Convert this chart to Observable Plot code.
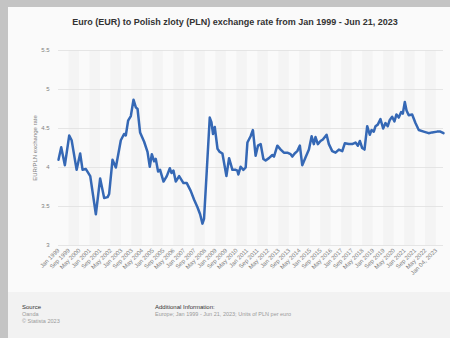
<!DOCTYPE html>
<html><head><meta charset="utf-8">
<script src="https://cdn.jsdelivr.net/npm/d3@7"></script>
<script src="https://cdn.jsdelivr.net/npm/@observablehq/plot@0.6"></script>
<style>
body{margin:0;width:450px;height:338px;background:#c4c4c4;font-family:"Liberation Sans",Arial,sans-serif;overflow:hidden;position:relative}
#card{position:absolute;left:8px;top:7px;width:442px;height:331px;background:#fafafa}
#title{position:absolute;left:12px;top:10px;width:430px;text-align:center;font-weight:bold;font-size:9px;line-height:11px;color:#333;white-space:nowrap}
#chart{position:absolute;left:0;top:23px}
#footer{position:absolute;left:0;top:285px;width:442px;height:46px;background:#f2f2f2;font-size:5.5px;line-height:7px;color:#9a9a9a}
#src{position:absolute;left:14px;top:12px}
#add{position:absolute;left:147px;top:12px}
.h{color:#333;font-size:6px}
</style></head>
<body>
<div id="card">
  <div id="title">Euro (EUR) to Polish zloty (PLN) exchange rate from Jan 1999 - Jun 21, 2023</div>
  <div id="chart"></div>
  <div id="footer">
    <div id="src"><div class="h">Source</div><div>Oanda</div><div>© Statista 2023</div></div>
    <div id="add"><div class="h">Additional Information:</div><div>Europe; Jan 1999 - Jun 21, 2023; Units of PLN per euro</div></div>
  </div>
</div>
<script>
const dates = ["1999-01-01","1999-03-05","1999-05-29","1999-09-07","1999-11-02","2000-02-26","2000-05-18","2000-07-13","2000-09-28","2001-01-07",
"2001-05-17","2001-08-25","2001-11-26","2002-02-14","2002-03-21","2002-06-08","2002-08-24","2002-12-18","2003-03-03","2003-04-12",
"2003-06-05","2003-08-07","2003-10-08","2003-12-01","2004-01-10","2004-03-09","2004-06-11","2004-08-28","2004-10-20","2004-12-06",
"2005-01-29","2005-03-08","2005-05-01","2005-06-16","2005-09-04","2005-11-19","2006-01-28","2006-03-07","2006-04-22","2006-06-15",
"2006-09-01","2006-12-11","2007-02-26","2007-05-28","2007-08-13","2007-11-01","2008-01-01","2008-02-25","2008-04-01","2008-06-03",
"2008-08-12","2008-09-20","2008-10-27","2008-12-06","2009-02-08","2009-04-01","2009-06-02","2009-09-03","2009-11-03","2010-01-20",
"2010-04-06","2010-05-15","2010-06-07","2010-07-30","2010-10-02","2010-11-24","2011-01-03","2011-03-18","2011-05-11","2011-07-13",
"2011-09-05","2011-11-07","2012-01-09","2012-03-01","2012-05-16","2012-08-04","2012-09-11","2012-11-28","2013-02-14","2013-04-29",
"2013-07-17","2013-10-02","2013-11-11","2014-01-04","2014-03-05","2014-05-05","2014-06-29","2014-09-15","2014-12-01","2015-02-02",
"2015-03-25","2015-05-03","2015-06-26","2015-08-28","2015-10-20","2016-01-15","2016-03-08","2016-05-25","2016-08-10","2016-10-26",
"2017-01-13","2017-03-13","2017-06-14","2017-09-02","2017-11-17","2018-01-10","2018-02-25","2018-04-20","2018-06-13","2018-08-15",
"2018-10-14","2018-11-23","2019-01-15","2019-02-24","2019-04-17","2019-06-19","2019-08-20","2019-10-13","2019-12-05","2020-01-21",
"2020-03-16","2020-05-08","2020-06-24","2020-08-17","2020-10-11","2020-11-18","2021-01-04","2021-02-13","2021-04-05","2021-06-23",
"2021-09-08","2021-11-24","2022-03-18","2022-07-12","2022-09-30","2023-01-24","2023-04-10","2023-06-21"];
const rates = [4.10,4.26,4.03,4.41,4.35,3.97,4.18,3.97,3.98,3.89,
3.40,3.86,3.61,3.62,3.66,4.10,4.00,4.35,4.43,4.41,
4.60,4.66,4.87,4.77,4.75,4.45,4.33,4.20,4.01,4.17,
4.08,4.11,3.95,3.97,3.82,3.89,3.99,3.93,3.96,3.82,
3.89,3.80,3.80,3.70,3.59,3.49,3.40,3.28,3.34,3.95,
4.64,4.58,4.43,4.52,4.24,4.20,4.18,3.89,4.12,3.97,
3.97,3.96,3.91,4.01,3.97,4.00,4.32,4.40,4.48,4.15,
4.28,4.30,4.11,4.09,4.12,4.16,4.14,4.28,4.23,4.19,
4.19,4.17,4.14,4.18,4.21,4.28,4.03,4.13,4.23,4.40,
4.30,4.39,4.30,4.34,4.36,4.42,4.30,4.21,4.19,4.23,
4.21,4.31,4.30,4.30,4.32,4.28,4.34,4.25,4.23,4.53,
4.42,4.48,4.46,4.53,4.55,4.62,4.50,4.57,4.53,4.61,
4.65,4.59,4.68,4.64,4.71,4.69,4.84,4.73,4.67,4.68,
4.57,4.48,4.46,4.44,4.45,4.46,4.46,4.44];
const tickDates = ["1999-01-01","1999-09-01","2000-05-01","2001-01-01","2001-09-01","2002-05-01","2003-01-01","2003-09-01","2004-05-01","2005-01-01",
"2005-09-01","2006-05-01","2007-01-01","2007-09-01","2008-05-01","2009-01-01","2009-09-01","2010-05-01","2011-01-01","2011-09-01",
"2012-05-01","2013-01-01","2013-09-01","2014-05-01","2015-01-01","2015-09-01","2016-05-01","2017-01-01","2017-09-01","2018-05-01",
"2019-01-01","2019-09-01","2020-05-01","2021-01-01","2021-09-01","2022-05-01","2023-01-04"];
const tickLabels = ["Jan 1999","Sep 1999","May 2000","Jan 2001","Sep 2001","May 2002","Jan 2003","Sep 2003","May 2004","Jan 2005",
"Sep 2005","May 2006","Jan 2007","Sep 2007","May 2008","Jan 2009","Sep 2009","May 2010","Jan 2011","Sep 2011",
"May 2012","Jan 2013","Sep 2013","May 2014","Jan 2015","Sep 2015","May 2016","Jan 2017","Sep 2017","May 2018",
"Jan 2019","Sep 2019","May 2020","Jan 2021","Sep 2021","May 2022","Jan 04, 2023"];
const yTicks = [3, 3.5, 4, 4.5, 5, 5.5];

const data = dates.map((d, i) => ({date: new Date(d), rate: rates[i]}));
const ticks = tickDates.map(d => new Date(d));
const labelOf = new Map(ticks.map((t, i) => [+t, tickLabels[i]]));
const bands = [];
for (let i = 1; i + 1 < ticks.length; i += 2) bands.push({x1: ticks[i], x2: ticks[i + 1]});

const chart = Plot.plot({
  width: 442, height: 262,
  marginTop: 20, marginBottom: 47, marginLeft: 50, marginRight: 7,
  style: {background: "transparent", fontFamily: "Liberation Sans, Arial, sans-serif", color: "#808080"},
  x: {type: "utc", domain: [new Date("1999-01-01"), new Date("2023-06-21")]},
  y: {domain: [3, 5.5]},
  marks: [
    Plot.rect(bands, {x1: "x1", x2: "x2", y1: 3, y2: 5.5, fill: "#f4f4f4"}),
    Plot.gridY(yTicks, {stroke: "#e0e0e0", strokeOpacity: 1, strokeWidth: 0.8}),
    Plot.axisY(yTicks, {tickSize: 0, tickPadding: 9, fontSize: 6, tickFormat: d => String(d),
      label: "EUR/PLN exchange rate", labelAnchor: "center", labelOffset: 26, labelArrow: "none"}),
    Plot.axisX(ticks, {tickSize: 0, tickPadding: 4, fontSize: 6, tickRotate: -45,
      tickFormat: d => labelOf.get(+d), label: null}),
    Plot.line(data, {x: "date", y: "rate", stroke: "#3568b5", strokeWidth: 2.5, strokeLinejoin: "round", strokeLinecap: "round"})
  ]
});
document.getElementById("chart").appendChild(chart);
</script>
</body></html>
